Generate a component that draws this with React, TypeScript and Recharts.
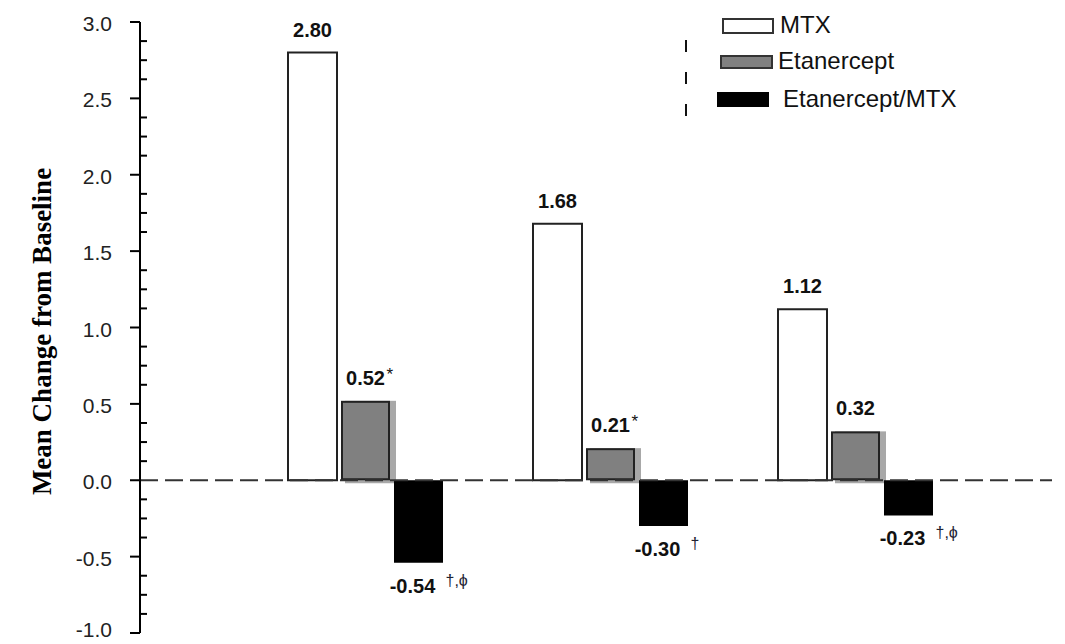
import { BarChart, Bar, XAxis, YAxis, ReferenceLine, LabelList, Legend, Label } from "recharts"

// three study groups (no category labels are shown on the chart)
const groups = ["1", "2", "3"]
const mtx = [2.8, 1.68, 1.12]
const etanercept = [0.52, 0.21, 0.32]
const combo = [-0.54, -0.3, -0.23]
const etanerceptMarks = ["*", "*", ""]
const comboMarks = ["†,ϕ", "†", "†,ϕ"]

const yTicks = [
  -1, -0.875, -0.75, -0.625, -0.5, -0.375, -0.25, -0.125,
  0, 0.125, 0.25, 0.375, 0.5, 0.625, 0.75, 0.875,
  1, 1.125, 1.25, 1.375, 1.5, 1.625, 1.75, 1.875,
  2, 2.125, 2.25, 2.375, 2.5, 2.625, 2.75, 2.875, 3,
]
const majorTicks = [-1, -0.5, 0, 0.5, 1, 1.5, 2, 2.5, 3]

const seriesNames = ["MTX", "Etanercept", "Etanercept/MTX"]

const data = groups.map((g, i) => ({
  group: g,
  mtx: mtx[i],
  etanercept: etanercept[i],
  combo: combo[i],
}))

const SANS = "'Liberation Sans', Arial, sans-serif"

function YTick(p: any) {
  const { x, y, payload } = p
  const v = payload.value
  const major = majorTicks.includes(v)
  // bottom label sits on the page edge, keep it inside
  const dy = v === -1 ? 4 : 9
  return (
    <g>
      {major ? (
        <line x1={x - 10} x2={x} y1={y} y2={y} stroke="#000" strokeWidth={2} />
      ) : (
        <line x1={x} x2={x + 7} y1={y} y2={y} stroke="#000" strokeWidth={2} />
      )}
      {major && (
        <text x={x - 28} y={y + dy} textAnchor="end" fontSize={21} fill="#222" fontFamily={SANS}>
          {v.toFixed(1)}
        </text>
      )}
    </g>
  )
}

function box(p: any) {
  const vb = p.viewBox ?? p
  const x = vb.x ?? p.x
  const y = vb.y ?? p.y
  const width = vb.width ?? p.width
  const height = vb.height ?? p.height
  return { x, y, width, height, top: Math.min(y, y + height), bottom: Math.max(y, y + height) }
}

const posLabel = (marks: string[] | null) => (p: any) => {
  const { x, width, top } = box(p)
  const cx = x + width / 2
  const mark = marks ? marks[p.index] : ""
  return (
    <g>
      <text x={cx} y={top - 16} textAnchor="middle" fontSize={20} fontWeight="bold" fill="#111" fontFamily={SANS}>
        {Number(p.value).toFixed(2)}
      </text>
      {mark && (
        <text x={cx + 21} y={top - 21} fontSize={17} fill="#111" fontFamily={SANS}>
          {mark}
        </text>
      )}
    </g>
  )
}

const negLabel = (p: any) => {
  const { x, width, bottom } = box(p)
  const cx = x + width / 2
  return (
    <g>
      <text x={cx - 6} y={bottom + 30} textAnchor="middle" fontSize={20} fontWeight="bold" fill="#111" fontFamily={SANS}>
        {Number(p.value).toFixed(2)}
      </text>
      <text x={cx + 27} y={bottom + 23} fontSize={16} fill="#223" fontFamily={SANS}>
        {comboMarks[p.index]}
      </text>
    </g>
  )
}

function ShadowBar(p: any) {
  const { x, y, width, height } = p
  const top = Math.min(y, y + height)
  const h = Math.abs(height)
  return (
    <g>
      <rect x={x + 4} y={top} width={width + 2} height={h + 3} fill="#a8a8a8" />
      <rect x={x + 1} y={top + 1} width={width - 2} height={h - 2} fill="#808080" stroke="#222" strokeWidth={2} />
    </g>
  )
}

function LegendBox() {
  return (
    <svg width={385} height={130}>
      <line x1={6} x2={6} y1={40} y2={116} stroke="#111" strokeWidth={2} strokeDasharray="12 20" />
      <rect x={43} y={19} width={50} height={14} fill="#fff" stroke="#333" strokeWidth={2} />
      <text x={100} y={33} fontSize={24} fill="#111" fontFamily={SANS}>{seriesNames[0]}</text>
      <rect x={41} y={56} width={51} height={12} fill="#808080" stroke="#333" strokeWidth={2} />
      <text x={98} y={69} fontSize={24} fill="#111" fontFamily={SANS}>{seriesNames[1]}</text>
      <rect x={37} y={92} width={52} height={15} fill="#000" />
      <text x={103} y={107} fontSize={24} fill="#111" fontFamily={SANS}>{seriesNames[2]}</text>
    </svg>
  )
}

export default function App() {
  return (
    <div style={{ width: 1065, height: 644, background: "#fff" }}>
      <style>{"body{margin:0;background:#fff}"}</style>
      <BarChart
        width={1065}
        height={644}
        data={data}
        margin={{ top: 22, right: 13, bottom: 11, left: 0 }}
        barSize={49}
        barGap={4}
      >
        <XAxis dataKey="group" hide padding={{ left: 103, right: 74 }} />
        <YAxis
          type="number"
          domain={[-1, 3]}
          ticks={yTicks}
          interval={0}
          width={140}
          tickSize={0}
          tickMargin={0}
          tickLine={false}
          tick={<YTick />}
          axisLine={{ stroke: "#000", strokeWidth: 2 }}
          allowDataOverflow
        >
          <Label
            content={(p: any) => {
              const vb = p.viewBox
              const cy = vb.y + vb.height / 2 + 4
              return (
                <text
                  x={42}
                  y={cy}
                  transform={`rotate(-90, 42, ${cy})`}
                  textAnchor="middle"
                  dominantBaseline="central"
                  fontSize={27}
                  fontWeight="bold"
                  fill="#000"
                  fontFamily="'Liberation Serif', 'Times New Roman', serif"
                >
                  Mean Change from Baseline
                </text>
              )
            }}
          />
        </YAxis>
        <Legend
          layout="horizontal"
          verticalAlign="middle"
          align="center"
          wrapperStyle={{ top: 0, left: 680, width: 385, height: 130 }}
          content={() => <LegendBox />}
        />
        <Bar dataKey="mtx" name={seriesNames[0]} fill="#fff" stroke="#222" strokeWidth={2} isAnimationActive={false}>
          <LabelList dataKey="mtx" content={posLabel(null)} />
        </Bar>
        <Bar dataKey="etanercept" name={seriesNames[1]} fill="#808080" shape={<ShadowBar />} isAnimationActive={false}>
          <LabelList dataKey="etanercept" content={posLabel(etanerceptMarks)} />
        </Bar>
        <Bar dataKey="combo" name={seriesNames[2]} fill="#000" isAnimationActive={false}>
          <LabelList dataKey="combo" content={negLabel} />
        </Bar>
        <ReferenceLine y={0} stroke="#333" strokeWidth={2} strokeDasharray="18 7" />
      </BarChart>
    </div>
  )
}
